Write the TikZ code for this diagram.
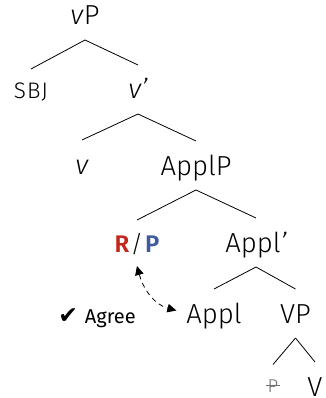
\documentclass[tikz,border=0pt]{standalone}
\usepackage{fontspec}
\setmainfont{Fira Sans Light}[ItalicFont={Fira Sans Light Italic},BoldFont={Fira Sans SemiBold}]
\newfontfamily\agreefont{Fira Sans}
\newfontfamily\symfont{DejaVu Sans}
\usetikzlibrary{arrows.meta}
\definecolor{rred}{HTML}{C4261D}
\definecolor{pblue}{HTML}{3F5B9C}
\definecolor{strk}{HTML}{707070}
\newcommand{\prm}{{\itshape\char"27}}
\begin{document}
\begin{tikzpicture}[x=1pt,y=-1pt,
  lbl/.style={anchor=base,inner xsep=0pt,inner ysep=15pt,outer sep=0pt,
    text height=19pt,text depth=0pt,font=\fontsize{27.5}{30}\selectfont},
  small/.style={lbl,text height=15pt,font=\fontsize{22.5}{26}\selectfont},
  branch/.style={line width=0.8pt},
  agreearrow/.style={line width=0.8pt,dash pattern=on 5pt off 4pt,
    {Triangle[length=9pt,width=8.5pt]}-{Triangle[length=9pt,width=8.5pt]}}]
\useasboundingbox (0,0) rectangle (325,398);
\node[lbl] (vP) at (85,25) {\textit{v}P};
\node[small] (SBJ) at (31,99) {\addfontfeature{LetterSpace=5}SBJ};
\node[lbl] (vbar) at (138,99) {\textit{v}\prm};
\node[lbl] (v) at (82,174) {\textit{v}};
\node[lbl] (ApplP) at (196,175) {ApplP};
\node[lbl,text height=17pt,font=\fontsize{24}{28}\selectfont] (RP) at (137,252)
  {\textbf{\color{rred}R}\hspace{1.5pt}/\hspace{2pt}\textbf{\color{pblue}P}};
\node[lbl] (Applbar) at (256,252) {Appl\prm};
\node[lbl] (Appl) at (214,323) {Appl};
\node[lbl] (VP) at (295.5,323) {VP};
\node[lbl,text height=12.5pt,font=\fontsize{18.5}{20}\selectfont,text=strk] (Pstr) at (273,392)
  {P\llap{\rule[0.34em]{0.75em}{0.7pt}\hspace{-0.1em}}};
\node[lbl] (V) at (315,396) {V};
\node[anchor=base,inner sep=0pt,font=\fontsize{20}{24}\selectfont] (agree) at (97,323)
  {{\symfont\fontsize{23.5}{26}\selectfont ✔}\hspace{7pt}{\agreefont Agree}};
\draw[branch] (vP.south) -- (SBJ.north);
\draw[branch] (vP.south) -- (vbar.north);
\draw[branch] (vbar.south) -- (v.north);
\draw[branch] (vbar.south) -- (ApplP.north);
\draw[branch] (ApplP.south) -- (RP.north);
\draw[branch] (ApplP.south) -- (Applbar.north);
\draw[branch] (Applbar.south) -- (Appl.north);
\draw[branch] (Applbar.south) -- (VP.north);
\draw[branch] (VP.south) -- (Pstr.north);
\draw[branch] (VP.south) -- (V.north);
\draw[agreearrow] ([yshift=1pt]RP.south) to[out=-75,in=165] ([xshift=-10pt,yshift=3pt]Appl.west);
\end{tikzpicture}
\end{document}
